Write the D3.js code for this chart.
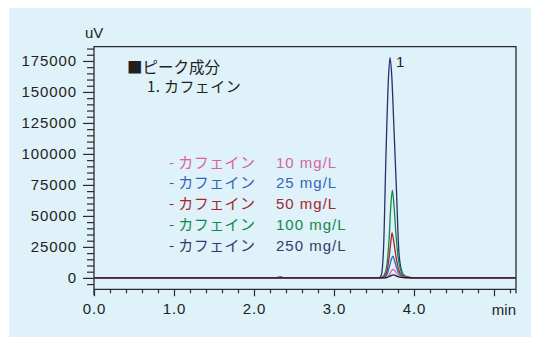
<!DOCTYPE html>
<html>
<head>
<meta charset="utf-8">
<script src="https://cdn.jsdelivr.net/npm/d3@7"></script>
<style>
  html, body { margin: 0; padding: 0; background: #ffffff; }
  svg { display: block; }
</style>
</head>
<body>
<svg id="chart" width="536" height="337"></svg>
<script>
// Caffeine standards chromatogram: time (min), signal (uV)
const trace250 = [[0,0],[2.25,0],[2.30,400],[2.33,800],[2.36,300],[2.42,0],[3.56,0],[3.59,2000],[3.62,25000],[3.65,100000],[3.68,160000],[3.70,177700],[3.72,165000],[3.75,120000],[3.78,72000],[3.81,22000],[3.84,7000],[3.88,1500],[3.95,300],[4.05,0],[5.275,0]];
const trace100 = [[0,0],[3.58,0],[3.62,1500],[3.66,10000],[3.69,33000],[3.71,58000],[3.73,70700],[3.75,58000],[3.775,35000],[3.80,17000],[3.83,7000],[3.87,2500],[3.92,800],[4.0,200],[4.1,0],[5.275,0]];
const trace50  = [[0,0],[3.58,0],[3.62,700],[3.66,5000],[3.69,17000],[3.71,29000],[3.725,36300],[3.745,30000],[3.775,17000],[3.80,8500],[3.83,3500],[3.87,1200],[3.92,400],[4.0,100],[4.1,0],[5.275,0]];
const trace25  = [[0,0],[3.58,0],[3.62,400],[3.66,2500],[3.69,8500],[3.715,14500],[3.735,17500],[3.755,14500],[3.78,8500],[3.81,4000],[3.84,1700],[3.88,600],[3.95,150],[4.0,0],[5.275,0]];
const trace10  = [[0,0],[3.60,0],[3.64,300],[3.67,1200],[3.70,3500],[3.72,5800],[3.74,6800],[3.76,5800],[3.79,3400],[3.82,1600],[3.86,600],[3.92,150],[4.0,0],[5.275,0]];
const traceLow = [[0,0],[3.60,0],[3.66,300],[3.70,1300],[3.72,2100],[3.74,2400],[3.77,1900],[3.80,1000],[3.84,400],[3.90,100],[4.0,0],[5.275,0]];

const legendNames  = ["10 mg/L", "25 mg/L", "50 mg/L", "100 mg/L", "250 mg/L"];
const legendColors = ["#d862a6", "#3366b8", "#a3282f", "#12894a", "#343a6c"];

const yMajorTicks = [0, 25000, 50000, 75000, 100000, 125000, 150000, 175000];
const xMajorTicks = [0, 1, 2, 3, 4, 5];
// the 5 min tick carries no number; the unit label sits there instead
const xTickLabels = ["0.0", "1.0", "2.0", "3.0", "4.0", ""];

const svg = d3.select("#chart");
const W = 536, H = 337;
const plotL = 94, plotR = 516, plotT = 46.7, plotB = 289.3;
const ink = "#2b2b2b";
const fontLatin = "'Liberation Sans', Arial, sans-serif";
const fontJP = "'Noto Sans CJK JP', 'Noto Sans', sans-serif";

// panel background
svg.append("rect").attr("x", 9).attr("y", 8).attr("width", 522).attr("height", H - 8)
  .attr("fill", "#dff1f9");

const x = d3.scaleLinear().domain([0, 5.275]).range([plotL, plotR]);
const y = d3.scaleLinear().domain([-9200, 186500]).range([plotB, plotT]);

// y axis: major ticks with labels, minor ticks every 5000
const yMinor = d3.range(-5000, 186000, 5000).filter(v => v % 25000 !== 0);
const yAxisMinor = svg.append("g").attr("transform", `translate(${plotL},0)`)
  .call(d3.axisLeft(y).tickValues(yMinor).tickSize(7).tickFormat(""));
const yAxis = svg.append("g").attr("transform", `translate(${plotL},0)`)
  .call(d3.axisLeft(y).tickValues(yMajorTicks).tickSize(11).tickPadding(6).tickFormat(d3.format("d")));

// x axis: major ticks with labels, minor ticks every 0.2 min
const xMinor = d3.range(0.2, 5.27, 0.2).filter(v => Math.abs(v - Math.round(v)) > 0.01);
const xAxisMinor = svg.append("g").attr("transform", `translate(0,${plotB})`)
  .call(d3.axisBottom(x).tickValues(xMinor).tickSize(4).tickFormat(""));
const xAxis = svg.append("g").attr("transform", `translate(0,${plotB})`)
  .call(d3.axisBottom(x).tickValues(xMajorTicks).tickSize(7).tickPadding(7)
    .tickFormat((d, i) => xTickLabels[i]));

[yAxisMinor, yAxis, xAxisMinor, xAxis].forEach(g => {
  g.select(".domain").remove();
  g.selectAll("line").attr("stroke", ink).attr("stroke-width", 1.2);
  g.selectAll("text").attr("fill", "#231f20").attr("font-family", fontLatin)
    .attr("font-size", 15).attr("letter-spacing", "0.9px");
});

// frame
svg.append("path")
  .attr("d", `M${plotL},${plotB + 6}V${plotT}H${plotR}V${plotB + 4}M${plotL},${plotB}H${plotR}`)
  .attr("fill", "none").attr("stroke", ink).attr("stroke-width", 1.3);

// unit labels
svg.append("text").attr("x", 85).attr("y", 38).text("uV")
  .attr("font-family", fontLatin).attr("font-size", 15).attr("fill", "#231f20");
svg.append("text").attr("x", 516).attr("y", 314.5).attr("text-anchor", "end").text("min")
  .attr("font-family", fontLatin).attr("font-size", 15).attr("fill", "#231f20");

// traces
svg.append("clipPath").attr("id", "plotClip").append("rect")
  .attr("x", plotL).attr("y", plotT).attr("width", plotR - plotL).attr("height", plotB - plotT);

const line = d3.line().x(d => x(d[0])).y(d => y(d[1])).curve(d3.curveMonotoneX);
const traces = [
  { data: trace250, color: "#2a2e6c" },
  { data: trace100, color: legendColors[3] },
  { data: trace50,  color: legendColors[2] },
  { data: trace25,  color: legendColors[1] },
  { data: trace10,  color: legendColors[0] },
  { data: traceLow, color: "#1a1a1a" }
];
svg.append("g").attr("clip-path", "url(#plotClip)")
  .selectAll("path").data(traces).join("path")
  .attr("d", d => line(d.data))
  .attr("fill", "none").attr("stroke", d => d.color).attr("stroke-width", 1.3)
  .attr("stroke-linejoin", "round");

// peak number
svg.append("text").attr("x", 396).attr("y", 67).text("1")
  .attr("font-family", fontLatin).attr("font-size", 15).attr("fill", "#231f20");

// peak component header
svg.append("text").attr("x", 127).attr("y", 73)
  .attr("font-family", fontJP).attr("font-size", 15.5).attr("fill", "#231f20")
  .text("■ピーク成分");
svg.append("text").attr("x", 147).attr("y", 92)
  .attr("font-family", fontJP).attr("font-size", 15).attr("fill", "#231f20")
  .attr("letter-spacing", "0.4px")
  .text("1. カフェイン");

// concentration legend
const rows = svg.append("g").selectAll("g").data(legendNames).join("g")
  .attr("transform", (d, i) => `translate(0,${167.5 + i * 20.9})`);
rows.append("text").attr("x", 169)
  .attr("font-family", fontJP).attr("font-size", 15).attr("letter-spacing", "0.4px")
  .attr("fill", (d, i) => legendColors[i])
  .text("- カフェイン");
rows.append("text").attr("x", 276)
  .attr("font-family", fontLatin).attr("font-size", 15).attr("letter-spacing", "1px")
  .attr("fill", (d, i) => legendColors[i])
  .text(d => d);
</script>
</body>
</html>
